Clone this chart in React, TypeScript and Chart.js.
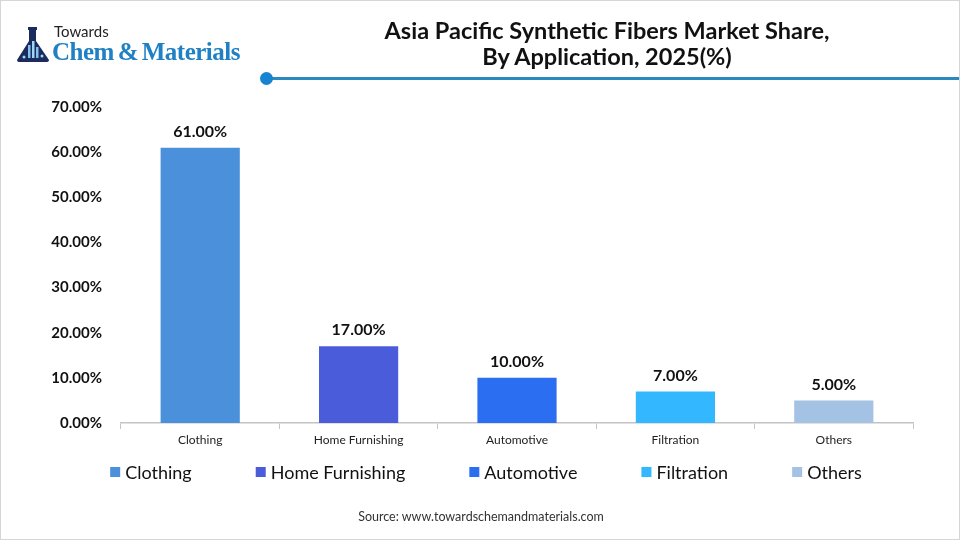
import React, { useEffect, useRef } from "react";
import { Chart, registerables } from "chart.js";

Chart.register(...registerables);

const categories = ["Clothing", "Home Furnishing", "Automotive", "Filtration", "Others"];
const shares = [61, 17, 10, 7, 5];
const barColors = ["#4A90DA", "#4B5CDA", "#2B6EF2", "#33B7FF", "#A4C2E4"];
const yTicks = [0, 10, 20, 30, 40, 50, 60, 70];
const titleLines = ["Asia Pacific Synthetic Fibers Market Share,", "By Application, 2025(%)"];
const sourceText = "Source: www.towardschemandmaterials.com";

const FONT = "Lato, 'Open Sans', sans-serif";

const valueLabels = {
  id: "valueLabels",
  afterDatasetsDraw(chart: any) {
    const ctx = chart.ctx;
    const meta = chart.getDatasetMeta(0);
    ctx.save();
    ctx.font = `bold 16px ${FONT}`;
    ctx.fillStyle = "#111";
    ctx.textAlign = "center";
    ctx.textBaseline = "bottom";
    meta.data.forEach((bar: any, i: number) => {
      const v = chart.data.datasets[0].data[i] as number;
      ctx.fillText(v.toFixed(2) + "%", bar.x, bar.y - 8);
    });
    ctx.restore();
  },
};

const customLegend = {
  id: "customLegend",
  afterDraw(chart: any) {
    const ctx = chart.ctx;
    ctx.save();
    ctx.font = `normal 18px ${FONT}`;
    ctx.textBaseline = "middle";
    const box = 10;
    const gapText = 5;
    const gapItem = 64;
    const widths = categories.map((c) => box + gapText + ctx.measureText(c).width);
    const total = widths.reduce((a, b) => a + b, 0) + gapItem * (categories.length - 1);
    let x = 485 - total / 2;
    const y = 471;
    categories.forEach((c, i) => {
      ctx.fillStyle = barColors[i];
      ctx.fillRect(x, y - box / 2, box, box);
      ctx.fillStyle = "#111";
      ctx.fillText(c, x + box + gapText, y + 1);
      x += widths[i] + gapItem;
    });
    ctx.restore();
  },
};

function Flask() {
  return (
    <svg width="34" height="36" viewBox="0 0 34 36" style={{ position: "absolute", left: 15, top: 26 }}>
      <rect x="12" y="0" width="9" height="3" fill="#1c2b5e" />
      <rect x="13" y="3" width="7" height="4" fill="#1c2b5e" />
      <path d="M13 7 L20 7 L20 14 L33 33 Q33 35 31 35 L3 35 Q1 35 1 33 L13 14 Z" fill="#1c2b5e" />
      <rect x="12" y="18" width="2.5" height="13" fill="#7fc4ee" />
      <rect x="16" y="14" width="2.5" height="17" fill="#9fd6f5" />
      <rect x="20" y="20" width="2.5" height="11" fill="#7fc4ee" />
      <circle cx="8" cy="30" r="1.5" fill="#9fd6f5" />
      <circle cx="26" cy="29" r="1.5" fill="#9fd6f5" />
    </svg>
  );
}

export default function App() {
  const canvasRef = useRef<HTMLCanvasElement | null>(null);

  useEffect(() => {
    if (!canvasRef.current) return;
    Chart.defaults.font.family = FONT;
    const chart = new Chart(canvasRef.current, {
      type: "bar",
      data: {
        labels: categories,
        datasets: [
          {
            data: shares,
            backgroundColor: barColors,
            borderWidth: 0,
            barPercentage: 0.5,
            categoryPercentage: 1,
          },
        ],
      },
      options: {
        animation: false,
        responsive: false,
        maintainAspectRatio: false,
        layout: { padding: { left: 0, right: 48, top: 106, bottom: 88 } },
        plugins: {
          legend: { display: false },
          tooltip: { enabled: false },
          title: { display: false },
        },
        scales: {
          x: {
            grid: {
              display: true,
              drawOnChartArea: false,
              drawTicks: true,
              tickLength: 6,
              color: "#c4c4c4",
              offset: true,
            },
            border: { display: true, color: "#c4c4c4", width: 1.5 },
            ticks: { color: "#222", font: { size: 12, family: FONT }, padding: 4 },
            afterFit: (scale: any) => {
              scale.height = 30;
            },
          },
          y: {
            min: 0,
            max: 70,
            afterBuildTicks: (scale: any) => {
              scale.ticks = yTicks.map((v) => ({ value: v }));
            },
            grid: { display: false, drawTicks: false },
            border: { display: false },
            ticks: {
              color: "#111",
              font: { size: 15, weight: "bold", family: FONT },
              padding: 19,
              callback: (v: any) => Number(v).toFixed(2) + "%",
            },
            afterFit: (scale: any) => {
              scale.width = 120;
            },
          },
        },
      },
      plugins: [valueLabels, customLegend],
    });
    return () => chart.destroy();
  }, []);

  return (
    <div
      style={{
        position: "absolute",
        left: 0,
        top: 0,
        width: 960,
        height: 540,
        boxSizing: "border-box",
        border: "1px solid #d6d6d6",
        background: "#fff",
        overflow: "hidden",
        fontFamily: FONT,
      }}
    >
      <canvas ref={canvasRef} width={960} height={540} style={{ position: "absolute", left: 0, top: 0 }} />
      <Flask />
      <div style={{ position: "absolute", left: 53, top: 21, fontSize: 15, color: "#222", lineHeight: "18px" }}>
        Towards
      </div>
      <div
        style={{
          position: "absolute",
          left: 51,
          top: 36,
          fontFamily: "'Liberation Serif', serif",
          fontWeight: "bold",
          fontSize: 25,
          color: "#1F80C4",
          lineHeight: "30px",
          letterSpacing: "-0.5px",
          wordSpacing: "-2px",
          whiteSpace: "nowrap",
        }}
      >
        Chem &amp; Materials
      </div>
      <div
        style={{
          position: "absolute",
          left: 306,
          width: 600,
          top: 16,
          textAlign: "center",
          fontWeight: "bold",
          fontSize: 23.5,
          lineHeight: "26px",
          color: "#111",
          whiteSpace: "nowrap",
        }}
      >
        {titleLines.map((t) => (
          <div key={t}>{t}</div>
        ))}
      </div>
      <div style={{ position: "absolute", left: 265, top: 75.5, width: 700, height: 3, background: "#2A8AC0" }} />
      <div
        style={{
          position: "absolute",
          left: 259,
          top: 71,
          width: 13,
          height: 13,
          borderRadius: "50%",
          background: "#1784D2",
        }}
      />
      <div
        style={{
          position: "absolute",
          left: 0,
          width: 960,
          top: 508,
          textAlign: "center",
          fontSize: 12.5,
          color: "#333",
        }}
      >
        {sourceText}
      </div>
    </div>
  );
}
